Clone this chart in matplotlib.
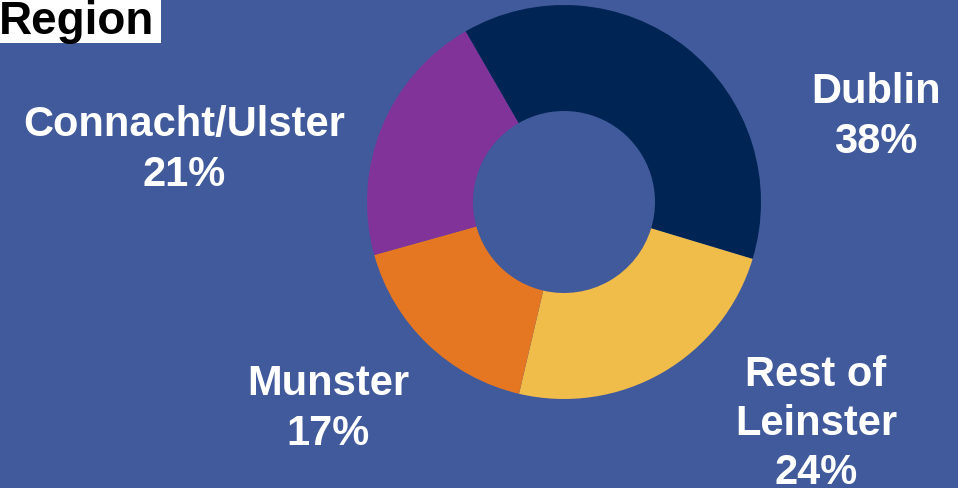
import matplotlib
matplotlib.use("Agg")
import matplotlib.pyplot as plt
from matplotlib.patches import Rectangle

regions = ["Dublin", "Rest of\nLeinster", "Munster", "Connacht/Ulster"]
shares = [38, 24, 17, 21]
colors = ["#002554", "#F0BD4A", "#E57722", "#82339A"]
# label anchor centres in pixels (x, y from top)
label_pos = [(876, 117), (816, 424), (328, 409), (184, 150)]

W, H = 958, 489
bg = "#415A9B"
plt.rcParams["font.family"] = ["Liberation Sans", "DejaVu Sans"]

fig = plt.figure(figsize=(W / 100, H / 100), dpi=100, facecolor=bg)
ax = fig.add_axes([0, 0, 1, 1])
ax.set_facecolor(bg)

R, r_in = 197, 91
ax.pie(shares, colors=colors, startangle=120, counterclock=False,
       center=(564, H - 203), radius=R,
       wedgeprops=dict(width=R - r_in, edgecolor="none", linewidth=0))
ax.set_xlim(0, W); ax.set_ylim(0, H)
ax.set_aspect("equal")
ax.axis("off")

for name, v, (x, y) in zip(regions, shares, label_pos):
    ax.text(x, H - y, f"{name}\n{v}%", ha="center", va="center", color="white",
            fontsize=30, fontweight="bold", linespacing=1.3)

# title box
ax.add_patch(Rectangle((0, H - 44), 161, 44, facecolor="white", edgecolor="none", zorder=5))
ax.text(-1, H - 22, "Region", ha="left", va="center", color="black",
        fontsize=33, fontweight="bold", zorder=6)

fig.savefig("out.png", dpi=100, facecolor=bg)
